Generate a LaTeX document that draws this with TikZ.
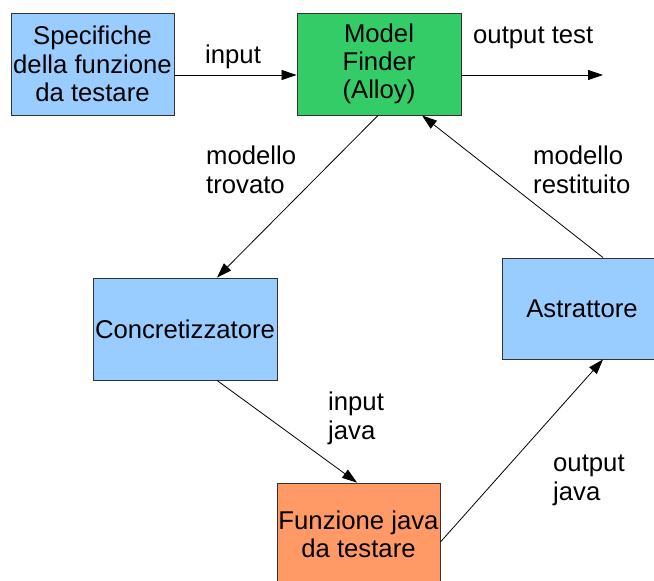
\documentclass[tikz,border=0pt]{standalone}
\usepackage{fontspec}
\setmainfont{Liberation Sans}
\usetikzlibrary{arrows.meta}
\definecolor{lblue}{HTML}{99CCFF}
\definecolor{mgreen}{HTML}{33CC66}
\definecolor{morange}{HTML}{FF9966}
\definecolor{edge}{HTML}{333333}
\tikzset{
  box/.style={draw=edge, line width=0.9pt, minimum height=102pt, inner sep=0pt, align=center,
    font=\fontsize{25.7}{28.3}\selectfont},
  conn/.style={line width=0.8pt, -{Triangle[length=15pt,width=10pt]}},
  lbl/.style={anchor=north west, inner sep=0pt, align=left, font=\fontsize{25.7}{28.3}\selectfont}
}
\begin{document}
\begin{tikzpicture}[x=1pt,y=-1pt]
\useasboundingbox (0,0) rectangle (654,581);
\fill[white] (0,0) rectangle (654,581);
\node[box, fill=lblue, minimum width=163pt] (spec) at (92.5,64) {Specifiche\\della funzione\\da testare};
\node[box, fill=mgreen, minimum width=164pt] (mf) at (379,64) {Model\\Finder\\(Alloy)};
\node[box, fill=lblue, minimum width=184pt] (conc) at (185,329) {Concretizzatore};
\node[box, fill=lblue, minimum width=160pt, minimum height=101pt] (astr) at (582,308.5) {Astrattore};
\node[box, fill=morange, minimum width=163pt] (funz) at (358.5,534) {Funzione java\\da testare};
\coordinate (outend) at (603,75);
\draw[conn] ([yshift=-11pt]spec.east) -- ([yshift=-11pt]mf.west);
\draw[conn] ([yshift=-11pt]mf.east) -- (outend);
\draw[conn] ([xshift=-1pt]mf.south) -- ([xshift=32pt]conc.north);
\draw[conn] ([xshift=21pt]astr.north) -- ([xshift=43pt]mf.south);
\draw[conn] ([xshift=32pt]conc.south) -- ([xshift=-1.5pt]funz.north);
\draw[conn] ([yshift=-8pt]funz.east) -- ([xshift=21pt]astr.south);
\node[lbl, anchor=base west] (l1) at (205,63) {input};
\node[lbl, anchor=base west] (l2) at (473,43) {output test};
\node[lbl] (l3) at (206,146) {modello\\trovato};
\node[lbl] (l4) at (533,146) {modello\\restituito};
\node[lbl] (l5) at (328,392) {input\\java};
\node[lbl] (l6) at (553,455) {output\\java};
\end{tikzpicture}
\end{document}
